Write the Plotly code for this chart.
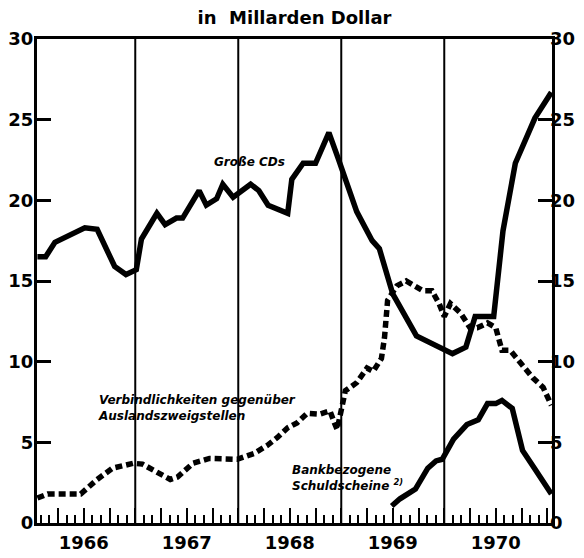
import plotly.graph_objects as go

# ---- data (fractional years, values in billions of dollars) ----
cds_x = [1966.05, 1966.13, 1966.22, 1966.51, 1966.63, 1966.80, 1966.91, 1967.01,
         1967.06, 1967.21, 1967.29, 1967.40, 1967.46, 1967.62, 1967.69, 1967.79,
         1967.85, 1967.95, 1968.12, 1968.20, 1968.29, 1968.48, 1968.52, 1968.63,
         1968.75, 1968.88, 1968.97, 1969.06, 1969.15, 1969.30, 1969.37, 1969.50,
         1969.73, 1970.08, 1970.21, 1970.30, 1970.48, 1970.57, 1970.69, 1970.88,
         1971.04]
cds_y = [16.5, 16.5, 17.4, 18.3, 18.2, 15.9, 15.4, 15.7,
         17.6, 19.2, 18.5, 18.9, 18.9, 20.6, 19.7, 20.1,
         21.0, 20.2, 21.0, 20.6, 19.7, 19.2, 21.3, 22.3,
         22.3, 24.2, 22.6, 20.9, 19.3, 17.5, 17.0, 14.2,
         11.6, 10.5, 10.9, 12.8, 12.8, 18.1, 22.3, 25.1,
         26.7]

verb_x = [1966.05, 1966.15, 1966.47, 1966.63, 1966.78, 1966.98, 1967.07, 1967.21,
          1967.34, 1967.41, 1967.56, 1967.72, 1967.85, 1967.99, 1968.15, 1968.28,
          1968.38, 1968.48, 1968.57, 1968.67, 1968.79, 1968.89, 1968.94, 1968.96,
          1969.04, 1969.15, 1969.25, 1969.31, 1969.39, 1969.42, 1969.45, 1969.54,
          1969.63, 1969.79, 1969.88, 1969.95, 1970.00, 1970.06, 1970.16, 1970.25,
          1970.32, 1970.42, 1970.50, 1970.56, 1970.64, 1970.74, 1970.86, 1970.96,
          1971.04]
verb_y = [1.55, 1.8, 1.8, 2.7, 3.4, 3.7, 3.65, 3.2,
          2.7, 2.85, 3.7, 4.0, 4.0, 3.95, 4.3, 4.8,
          5.3, 5.9, 6.2, 6.8, 6.75, 6.95, 6.1, 5.8,
          8.2, 8.7, 9.6, 9.4, 10.2, 11.5, 13.8, 14.7,
          15.0, 14.4, 14.4, 13.6, 12.8, 13.6, 13.0, 12.1,
          12.1, 12.4, 12.1, 10.7, 10.7, 9.9, 9.0, 8.4,
          7.3]

schuld_x = [1969.49, 1969.57, 1969.72, 1969.84, 1969.92, 1969.98, 1970.09, 1970.22,
            1970.33, 1970.42, 1970.50, 1970.56, 1970.66, 1970.76, 1970.88, 1971.04]
schuld_y = [1.05, 1.5, 2.1, 3.4, 3.85, 3.95, 5.2, 6.1,
            6.4, 7.4, 7.4, 7.6, 7.1, 4.5, 3.35, 1.8]

year_labels = ["1966", "1967", "1968", "1969", "1970"]
year_centers = [1966.5, 1967.5, 1968.5, 1969.5, 1970.5]
year_bounds = [1967, 1968, 1969, 1970]
y_ticks = [0, 5, 10, 15, 20, 25, 30]

X_RANGE = [1966.046, 1971.046]
Y_RANGE = [0, 30]
FONT = "DejaVu Sans"
tickfont = dict(family=FONT, size=18, color="black", weight="bold")

fig = go.Figure()
fig.add_trace(go.Scatter(x=cds_x, y=cds_y, mode="lines",
                         line=dict(color="black", width=5.5), showlegend=False))
fig.add_trace(go.Scatter(x=verb_x, y=verb_y, mode="lines",
                         line=dict(color="black", width=5.5, dash="7px,4px"),
                         showlegend=False))
fig.add_trace(go.Scatter(x=schuld_x, y=schuld_y, mode="lines",
                         line=dict(color="black", width=5.5), showlegend=False))
# invisible helpers so the secondary axes (labels) render
fig.add_trace(go.Scatter(x=[year_centers[0]], y=[1], xaxis="x2", yaxis="y",
                         mode="markers", marker=dict(opacity=0),
                         hoverinfo="skip", showlegend=False))
fig.add_trace(go.Scatter(x=[year_centers[0]], y=[1], xaxis="x", yaxis="y2",
                         mode="markers", marker=dict(opacity=0),
                         hoverinfo="skip", showlegend=False))

for yb in year_bounds:
    fig.add_shape(type="line", x0=yb, x1=yb, y0=Y_RANGE[0], y1=Y_RANGE[1],
                  xref="x", yref="y", line=dict(color="black", width=2),
                  layer="below")

fig.update_layout(
    width=584, height=558,
    margin=dict(l=37, r=32, t=39, b=35),
    paper_bgcolor="white", plot_bgcolor="white",
    title=dict(text="in\u00a0 Millarden Dollar", x=0.5, xanchor="center",
               y=1 - 18 / 558, yanchor="middle", xref="paper",
               font=dict(family=FONT, size=18, color="black", weight="bold")),
    xaxis=dict(range=X_RANGE, showline=True, linewidth=3, linecolor="black",
               mirror=True, ticks="inside", tickmode="linear", tick0=1966,
               dtick=0.25, ticklen=15, tickwidth=2, tickcolor="black",
               showticklabels=False, showgrid=False, zeroline=False,
               automargin=False,
               minor=dict(ticks="inside", tickmode="linear", tick0=1966,
                          dtick=1 / 12, ticklen=8, tickwidth=2,
                          tickcolor="black", showgrid=False)),
    xaxis2=dict(range=X_RANGE, overlaying="x", side="bottom", anchor="y",
                tickmode="array", tickvals=year_centers, ticktext=year_labels,
                ticks="", showline=False, showgrid=False, zeroline=False,
                automargin=False, ticklabelstandoff=7, tickfont=tickfont),
    yaxis=dict(range=Y_RANGE, tickmode="array", tickvals=y_ticks,
               showline=True, linewidth=3, linecolor="black", mirror=True,
               ticks="inside", ticklen=14, tickwidth=2.5, tickcolor="black",
               showgrid=False, zeroline=False, automargin=False,
               ticklabelstandoff=-3, tickfont=tickfont),
    yaxis2=dict(range=Y_RANGE, overlaying="y", side="right", anchor="x",
                tickmode="array", tickvals=y_ticks, ticks="inside",
                ticklen=14, tickwidth=2.5, tickcolor="black",
                showline=False, showgrid=False, zeroline=False,
                automargin=False, ticklabelstandoff=-3, tickfont=tickfont),
)

annfont = dict(family=FONT, size=12, color="black", weight="bold")
fig.add_annotation(x=1968.11, y=22.4, xref="x", yref="y",
                   text="<i>Große CDs</i>", showarrow=False,
                   xanchor="center", yanchor="middle", font=annfont)
fig.add_annotation(x=1966.62, y=7.1, xref="x", yref="y",
                   text="<i>Verbindlichkeiten gegenüber<br>Auslandszweigstellen</i>",
                   showarrow=False, xanchor="left", yanchor="middle",
                   align="left", font=annfont)
fig.add_annotation(x=1968.50, y=2.8, xref="x", yref="y",
                   text="<i>Bankbezogene<br>Schuldscheine <sup>2)</sup></i>",
                   showarrow=False, xanchor="left", yanchor="middle",
                   align="left", font=annfont)

# remove the browser's default 8px body margin so the 584x558 figure fills the window
fig.write_html("out.html",
               config={"displayModeBar": False},
               post_script="document.body.style.margin='0';"
                           "document.body.style.overflow='hidden';")
